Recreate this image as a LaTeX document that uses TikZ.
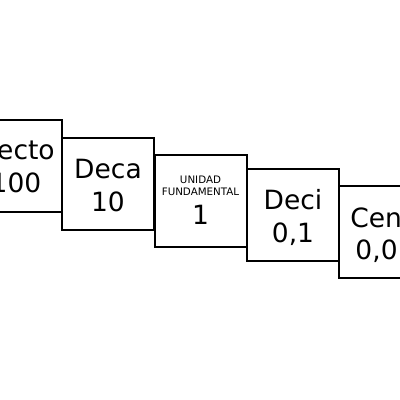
\documentclass[tikz,border=0pt]{standalone}
\usepackage{fontspec}
\setmainfont{DejaVu Sans}
\usetikzlibrary{calc}
\begin{document}
\begin{tikzpicture}[x=1pt,y=-1pt,
  unitbox/.style={draw=black,line width=2pt,minimum width=92pt,minimum height=92pt,inner sep=0pt},
  big/.style={anchor=base,inner sep=0pt,font=\fontsize{26.5}{30}\selectfont},
  small/.style={anchor=base,inner sep=0pt,font=\fontsize{10.3}{12}\selectfont}]
\fill[white] (0,0) rectangle (400,400);
\useasboundingbox (0,0) rectangle (400,400);
\node[unitbox] (b1) at (16,166) {};
\node[unitbox] (b2) at (108,183.5) {};
\node[unitbox] (b3) at (200.5,201) {};
\node[unitbox] (b4) at (293,214.5) {};
\node[unitbox] (b5) at (385,232) {};
\node[big] (t1a) at ($(b1.center)+(0,-7)$) {Hecto};
\node[big] (t1b) at ($(b1.center)+(0,26.5)$) {100};
\node[big] (t2a) at ($(b2.center)+(0,-5.5)$) {Deca};
\node[big] (t2b) at ($(b2.center)+(0,28)$) {10};
\node[small] (t3a) at ($(b3.center)+(0,-18)$) {UNIDAD};
\node[small] (t3b) at ($(b3.center)+(0,-6)$) {FUNDAMENTAL};
\node[big] (t3c) at ($(b3.center)+(0,23)$) {1};
\node[big] (t4a) at ($(b4.center)+(0,-5.5)$) {Deci};
\node[big] (t4b) at ($(b4.center)+(0,27.5)$) {0,1};
\node[big] (t5a) at ($(b5.center)+(0,-5)$) {Centi};
\node[big] (t5b) at ($(b5.center)+(0,27)$) {0,01};
\end{tikzpicture}
\end{document}
